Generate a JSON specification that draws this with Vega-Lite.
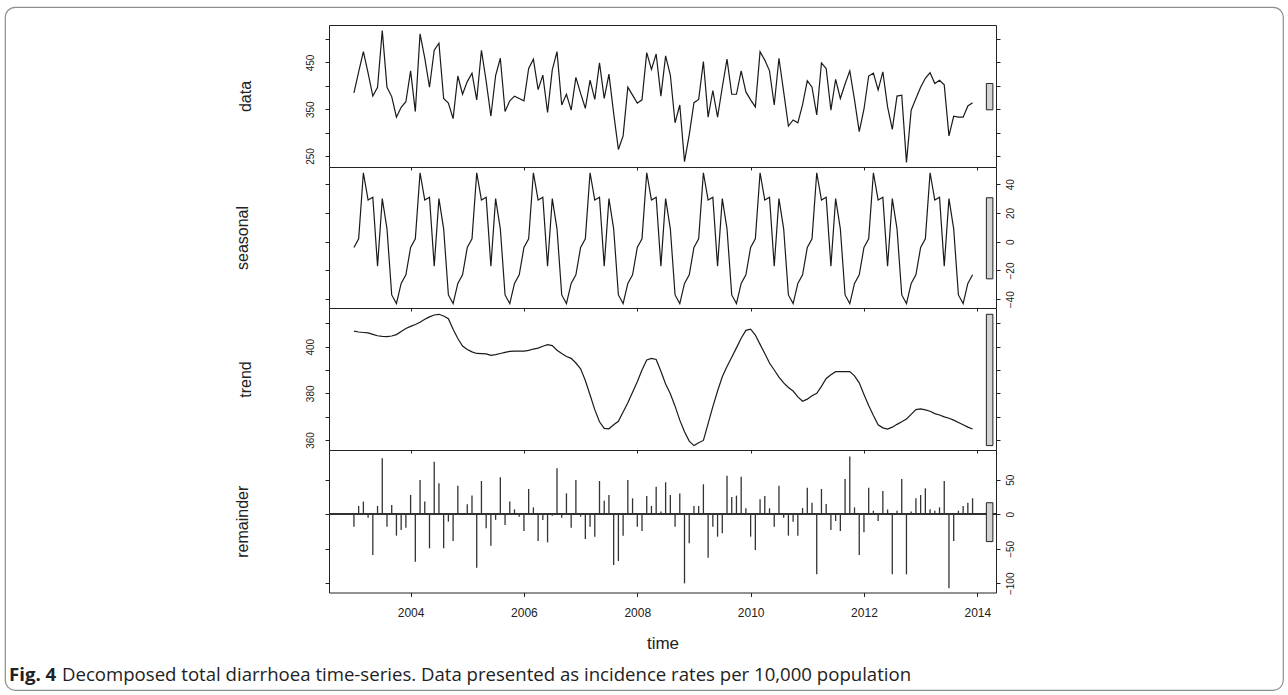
{
"$schema": "https://vega.github.io/schema/vega-lite/v6.json",
"width": 1278, "height": 683,
"autosize": {"type": "none"},
"padding": {"left": 5, "top": 7, "right": 5, "bottom": 5},
"background": "white",
"config": {
  "view": {"stroke": "#8f8f8f", "strokeWidth": 1.2, "cornerRadius": 10},
  "axis": {"grid": false, "domainColor": "#222", "tickColor": "#222", "labelColor": "#222", "titleColor": "#222", "labelFont": "Liberation Sans", "titleFont": "Liberation Sans", "titleFontWeight": "normal", "labelFlush": false, "labelOverlap": false, "domainWidth": 1, "tickWidth": 1}
},
"title": {"text": "Fig. 4", "subtitle": "Decomposed total diarrhoea time-series. Data presented as incidence rates per 10,000 population", "orient": "bottom", "anchor": "start", "frame": "group", "offset": -24, "dx": 57, "encoding": {"dx": {"value": 4}}, "baseline": "top", "font": "Open Sans", "fontSize": 18.6, "fontWeight": "bold", "color": "#222", "subtitleFont": "Open Sans", "subtitleFontSize": 18.6, "subtitleFontWeight": "normal", "subtitleColor": "#222", "subtitlePadding": -18.6},
"datasets": {"ts": [
{"time":2003,"data":385,"seasonal":-4,"trend":406.7,"remainder":-17.9},
{"time":2003.0833,"data":430,"seasonal":2,"trend":406.3,"remainder":12.1},
{"time":2003.1667,"data":473,"seasonal":48,"trend":406.1,"remainder":18.4},
{"time":2003.25,"data":427,"seasonal":29,"trend":405.9,"remainder":-4.8},
{"time":2003.3333,"data":378,"seasonal":31,"trend":405.3,"remainder":-58.9},
{"time":2003.4167,"data":397,"seasonal":-17,"trend":404.7,"remainder":12.1},
{"time":2003.5,"data":518,"seasonal":30,"trend":404.4,"remainder":81.2},
{"time":2003.5833,"data":397,"seasonal":9,"trend":404.3,"remainder":-17.9},
{"time":2003.6667,"data":377,"seasonal":-37,"trend":404.6,"remainder":13.5},
{"time":2003.75,"data":333,"seasonal":-43,"trend":405.2,"remainder":-30.9},
{"time":2003.8333,"data":354,"seasonal":-29,"trend":406.5,"remainder":-22.7},
{"time":2003.9167,"data":366,"seasonal":-23,"trend":407.8,"remainder":-19.3},
{"time":2004,"data":432,"seasonal":-4,"trend":408.7,"remainder":28.0},
{"time":2004.0833,"data":345,"seasonal":2,"trend":409.5,"remainder":-68.6},
{"time":2004.1667,"data":511,"seasonal":48,"trend":410.5,"remainder":49.8},
{"time":2004.25,"data":459,"seasonal":29,"trend":411.8,"remainder":18.4},
{"time":2004.3333,"data":397,"seasonal":31,"trend":412.8,"remainder":-49.3},
{"time":2004.4167,"data":476,"seasonal":-17,"trend":413.6,"remainder":76.3},
{"time":2004.5,"data":491,"seasonal":30,"trend":413.9,"remainder":44.9},
{"time":2004.5833,"data":373,"seasonal":9,"trend":413.2,"remainder":-49.3},
{"time":2004.6667,"data":363,"seasonal":-37,"trend":412.0,"remainder":-10.6},
{"time":2004.75,"data":330,"seasonal":-43,"trend":407.5,"remainder":-38.6},
{"time":2004.8333,"data":421,"seasonal":-29,"trend":403.5,"remainder":41.5},
{"time":2004.9167,"data":382,"seasonal":-23,"trend":400.3,"remainder":0.5},
{"time":2005,"data":409,"seasonal":-4,"trend":398.8,"remainder":14.5},
{"time":2005.0833,"data":427,"seasonal":2,"trend":397.8,"remainder":27.1},
{"time":2005.1667,"data":370,"seasonal":48,"trend":397.1,"remainder":-77.3},
{"time":2005.25,"data":476,"seasonal":29,"trend":397.0,"remainder":48.3},
{"time":2005.3333,"data":410,"seasonal":31,"trend":396.9,"remainder":-20.3},
{"time":2005.4167,"data":335,"seasonal":-17,"trend":396.3,"remainder":-45.4},
{"time":2005.5,"data":422,"seasonal":30,"trend":396.6,"remainder":-8.0},
{"time":2005.5833,"data":459,"seasonal":9,"trend":397.1,"remainder":53.6},
{"time":2005.6667,"data":345,"seasonal":-37,"trend":397.6,"remainder":-15.5},
{"time":2005.75,"data":368,"seasonal":-43,"trend":398.0,"remainder":18.4},
{"time":2005.8333,"data":378,"seasonal":-29,"trend":398.1,"remainder":7.2},
{"time":2005.9167,"data":373,"seasonal":-23,"trend":398.1,"remainder":-3.4},
{"time":2006,"data":368,"seasonal":-4,"trend":398.1,"remainder":-24.2},
{"time":2006.0833,"data":437,"seasonal":2,"trend":398.4,"remainder":36.7},
{"time":2006.1667,"data":457,"seasonal":48,"trend":399.0,"remainder":10.1},
{"time":2006.25,"data":392,"seasonal":29,"trend":399.4,"remainder":-38.6},
{"time":2006.3333,"data":423,"seasonal":31,"trend":400.2,"remainder":-8.2},
{"time":2006.4167,"data":343,"seasonal":-17,"trend":400.9,"remainder":-40.6},
{"time":2006.5,"data":434,"seasonal":30,"trend":400.5,"remainder":-1.9},
{"time":2006.5833,"data":473,"seasonal":9,"trend":398.5,"remainder":66.7},
{"time":2006.6667,"data":359,"seasonal":-37,"trend":397.1,"remainder":-4.8},
{"time":2006.75,"data":382,"seasonal":-43,"trend":395.8,"remainder":30.4},
{"time":2006.8333,"data":348,"seasonal":-29,"trend":395.0,"remainder":-19.3},
{"time":2006.9167,"data":418,"seasonal":-23,"trend":393.0,"remainder":49.8},
{"time":2007,"data":384,"seasonal":-4,"trend":390.5,"remainder":-3.4},
{"time":2007.0833,"data":352,"seasonal":2,"trend":385.5,"remainder":-35.7},
{"time":2007.1667,"data":412,"seasonal":48,"trend":379.3,"remainder":-17.9},
{"time":2007.25,"data":371,"seasonal":29,"trend":373.0,"remainder":-32.4},
{"time":2007.3333,"data":449,"seasonal":31,"trend":367.8,"remainder":48.3},
{"time":2007.4167,"data":373,"seasonal":-17,"trend":365.0,"remainder":19.8},
{"time":2007.5,"data":425,"seasonal":30,"trend":364.8,"remainder":28.0},
{"time":2007.5833,"data":341,"seasonal":9,"trend":366.5,"remainder":-73.4},
{"time":2007.6667,"data":264,"seasonal":-37,"trend":368.0,"remainder":-67.6},
{"time":2007.75,"data":293,"seasonal":-43,"trend":372.0,"remainder":-30.9},
{"time":2007.8333,"data":397,"seasonal":-29,"trend":376.0,"remainder":49.8},
{"time":2007.9167,"data":380,"seasonal":-23,"trend":380.5,"remainder":23.2},
{"time":2008,"data":363,"seasonal":-4,"trend":385.0,"remainder":-17.9},
{"time":2008.0833,"data":370,"seasonal":2,"trend":390.0,"remainder":-24.2},
{"time":2008.1667,"data":471,"seasonal":48,"trend":394.3,"remainder":26.6},
{"time":2008.25,"data":435,"seasonal":29,"trend":395.0,"remainder":12.1},
{"time":2008.3333,"data":468,"seasonal":31,"trend":394.5,"remainder":40.1},
{"time":2008.4167,"data":378,"seasonal":-17,"trend":389.5,"remainder":3.9},
{"time":2008.5,"data":464,"seasonal":30,"trend":384.0,"remainder":46.4},
{"time":2008.5833,"data":423,"seasonal":9,"trend":379.8,"remainder":28.0},
{"time":2008.6667,"data":321,"seasonal":-37,"trend":374.5,"remainder":-17.9},
{"time":2008.75,"data":359,"seasonal":-43,"trend":368.5,"remainder":30.0},
{"time":2008.8333,"data":238,"seasonal":-29,"trend":363.5,"remainder":-100.0},
{"time":2008.9167,"data":295,"seasonal":-23,"trend":359.5,"remainder":-42.0},
{"time":2009,"data":364,"seasonal":-4,"trend":357.6,"remainder":12.1},
{"time":2009.0833,"data":371,"seasonal":2,"trend":358.8,"remainder":12.1},
{"time":2009.1667,"data":452,"seasonal":48,"trend":359.8,"remainder":43.5},
{"time":2009.25,"data":333,"seasonal":29,"trend":367.0,"remainder":-62.8},
{"time":2009.3333,"data":390,"seasonal":31,"trend":374.3,"remainder":-17.9},
{"time":2009.4167,"data":333,"seasonal":-17,"trend":381.0,"remainder":-32.4},
{"time":2009.5,"data":397,"seasonal":30,"trend":387.1,"remainder":-27.5},
{"time":2009.5833,"data":457,"seasonal":9,"trend":391.5,"remainder":56.0},
{"time":2009.6667,"data":382,"seasonal":-37,"trend":395.5,"remainder":25.1},
{"time":2009.75,"data":382,"seasonal":-43,"trend":399.5,"remainder":27.1},
{"time":2009.8333,"data":432,"seasonal":-29,"trend":403.6,"remainder":54.6},
{"time":2009.9167,"data":387,"seasonal":-23,"trend":407.0,"remainder":8.7},
{"time":2010,"data":370,"seasonal":-4,"trend":407.5,"remainder":-32.4},
{"time":2010.0833,"data":355,"seasonal":2,"trend":405.0,"remainder":-51.7},
{"time":2010.1667,"data":473,"seasonal":48,"trend":401.0,"remainder":21.7},
{"time":2010.25,"data":455,"seasonal":29,"trend":397.1,"remainder":26.6},
{"time":2010.3333,"data":432,"seasonal":31,"trend":393.0,"remainder":8.7},
{"time":2010.4167,"data":359,"seasonal":-17,"trend":390.0,"remainder":-17.9},
{"time":2010.5,"data":459,"seasonal":30,"trend":387.0,"remainder":41.5},
{"time":2010.5833,"data":387,"seasonal":9,"trend":384.5,"remainder":-4.8},
{"time":2010.6667,"data":314,"seasonal":-37,"trend":382.5,"remainder":-30.9},
{"time":2010.75,"data":327,"seasonal":-43,"trend":381.0,"remainder":-10.6},
{"time":2010.8333,"data":321,"seasonal":-29,"trend":378.5,"remainder":-30.9},
{"time":2010.9167,"data":360,"seasonal":-23,"trend":376.6,"remainder":9.0},
{"time":2011,"data":411,"seasonal":-4,"trend":377.5,"remainder":38.6},
{"time":2011.0833,"data":397,"seasonal":2,"trend":379.0,"remainder":16.9},
{"time":2011.1667,"data":338,"seasonal":48,"trend":380.0,"remainder":-87.0},
{"time":2011.25,"data":449,"seasonal":29,"trend":383.0,"remainder":36.7},
{"time":2011.3333,"data":437,"seasonal":31,"trend":386.4,"remainder":15.0},
{"time":2011.4167,"data":348,"seasonal":-17,"trend":388.0,"remainder":-22.7},
{"time":2011.5,"data":414,"seasonal":30,"trend":389.3,"remainder":-9.7},
{"time":2011.5833,"data":373,"seasonal":9,"trend":389.3,"remainder":-24.2},
{"time":2011.6667,"data":404,"seasonal":-37,"trend":389.3,"remainder":51.2},
{"time":2011.75,"data":432,"seasonal":-43,"trend":389.3,"remainder":83.6},
{"time":2011.8333,"data":370,"seasonal":-29,"trend":387.5,"remainder":10.0},
{"time":2011.9167,"data":302,"seasonal":-23,"trend":384.5,"remainder":-58.9},
{"time":2012,"data":350,"seasonal":-4,"trend":379.5,"remainder":-26.0},
{"time":2012.0833,"data":421,"seasonal":2,"trend":374.8,"remainder":38.6},
{"time":2012.1667,"data":427,"seasonal":48,"trend":370.5,"remainder":5.3},
{"time":2012.25,"data":391,"seasonal":29,"trend":366.5,"remainder":-9.7},
{"time":2012.3333,"data":430,"seasonal":31,"trend":365.2,"remainder":33.8},
{"time":2012.4167,"data":355,"seasonal":-17,"trend":364.7,"remainder":7.0},
{"time":2012.5,"data":307,"seasonal":30,"trend":365.5,"remainder":-87.0},
{"time":2012.5833,"data":378,"seasonal":9,"trend":366.7,"remainder":5.3},
{"time":2012.6667,"data":380,"seasonal":-37,"trend":367.8,"remainder":51.2},
{"time":2012.75,"data":236,"seasonal":-43,"trend":369.0,"remainder":-87.0},
{"time":2012.8333,"data":348,"seasonal":-29,"trend":371.0,"remainder":3.9},
{"time":2012.9167,"data":373,"seasonal":-23,"trend":373.0,"remainder":23.2},
{"time":2013,"data":397,"seasonal":-4,"trend":373.3,"remainder":28.0},
{"time":2013.0833,"data":416,"seasonal":2,"trend":372.9,"remainder":37.7},
{"time":2013.1667,"data":428,"seasonal":48,"trend":372.3,"remainder":7.2},
{"time":2013.25,"data":405,"seasonal":29,"trend":371.3,"remainder":5.3},
{"time":2013.3333,"data":412,"seasonal":31,"trend":370.7,"remainder":10.1},
{"time":2013.4167,"data":402,"seasonal":-17,"trend":369.9,"remainder":48.3},
{"time":2013.5,"data":293,"seasonal":30,"trend":369.3,"remainder":-107.2},
{"time":2013.5833,"data":335,"seasonal":9,"trend":368.5,"remainder":-38.6},
{"time":2013.6667,"data":333,"seasonal":-37,"trend":367.5,"remainder":5.3},
{"time":2013.75,"data":333,"seasonal":-43,"trend":366.5,"remainder":12.1},
{"time":2013.8333,"data":357,"seasonal":-29,"trend":365.5,"remainder":16.9},
{"time":2013.9167,"data":364,"seasonal":-23,"trend":364.7,"remainder":23.2}
]},
"data": {"name": "ts"},
"layer": [
 {"layer": [
   {"mark": {"type": "line", "color": "#1a1a1a", "strokeWidth": 1.2},
    "encoding": {
     "x": {"field": "time", "type": "quantitative", "scale": {"domain": [2002.56, 2014.33], "range": [324, 991], "nice": false, "zero": false}, "axis": {"orient": "top", "offset": -18, "ticks": false, "labels": false, "title": null}},
     "y": {"field": "data", "type": "quantitative", "scale": {"domain": [226.5, 530], "range": [160, 18], "nice": false, "zero": false}, "axis": {"orient": "left", "offset": -324, "values": [250, 300, 350, 400, 450, 500], "labelExpr": "datum.value % 100 == 50 ? datum.label : ''", "tickSize": 4, "labelPadding": 10, "labelFontSize": 10, "labelAngle": -90, "labelAlign": "center", "labelBaseline": "bottom", "title": "data", "titleFontSize": 16, "titlePadding": 52}}
    }},
   {"data": {"values": [{"t0": 2014.16, "t1": 2014.275, "lo": 348.7, "hi": 405}]},
    "mark": {"type": "rect", "fill": "#d3d3d3", "stroke": "#222", "strokeWidth": 1},
    "encoding": {
     "x": {"field": "t0", "type": "quantitative", "scale": {"domain": [2002.56, 2014.33], "range": [324, 991], "nice": false, "zero": false}, "axis": {"orient": "bottom", "offset": -523, "values": [2004, 2006, 2008, 2010, 2012, 2014], "labels": false, "tickSize": 3, "title": null}},
     "x2": {"field": "t1"},
     "y": {"field": "lo", "type": "quantitative", "scale": {"domain": [226.5, 530], "range": [160, 18], "nice": false, "zero": false}, "axis": {"orient": "right", "offset": -287, "values": [250, 300, 350, 400, 450, 500], "labels": false, "tickSize": 4, "title": null}},
     "y2": {"field": "hi"}
    }}
  ],
  "resolve": {"scale": {"y": "shared"}, "axis": {"x": "independent", "y": "independent"}}},
 {"layer": [
   {"mark": {"type": "line", "color": "#1a1a1a", "strokeWidth": 1.2},
    "encoding": {
     "x": {"field": "time", "type": "quantitative", "scale": {"domain": [2002.56, 2014.33], "range": [324, 991], "nice": false, "zero": false}, "axis": {"orient": "bottom", "offset": -382, "values": [2004, 2006, 2008, 2010, 2012, 2014], "labels": false, "tickSize": 3, "title": null}},
     "y": {"field": "seasonal", "type": "quantitative", "scale": {"domain": [-46.1, 52.0], "range": [301, 160], "nice": false, "zero": false}, "axis": {"orient": "left", "offset": -324, "values": [-40, -20, 0, 20, 40], "labels": false, "tickSize": 4, "title": "seasonal", "titleFontSize": 16, "titlePadding": 74}}
    }},
   {"data": {"values": [{"t0": 2014.16, "t1": 2014.275, "lo": -25.8, "hi": 30.6}]},
    "mark": {"type": "rect", "fill": "#d3d3d3", "stroke": "#222", "strokeWidth": 1},
    "encoding": {
     "x": {"field": "t0", "type": "quantitative", "scale": {"domain": [2002.56, 2014.33], "range": [324, 991], "nice": false, "zero": false}, "axis": null},
     "x2": {"field": "t1"},
     "y": {"field": "lo", "type": "quantitative", "scale": {"domain": [-46.1, 52.0], "range": [301, 160], "nice": false, "zero": false}, "axis": {"orient": "right", "offset": -287, "values": [-40, -20, 0, 20, 40], "tickSize": 4, "labelPadding": 5, "labelFontSize": 10, "labelAngle": -90, "labelAlign": "center", "labelBaseline": "top", "title": null}},
     "y2": {"field": "hi"}
    }}
  ],
  "resolve": {"scale": {"y": "shared"}, "axis": {"x": "independent", "y": "independent"}}},
 {"layer": [
   {"mark": {"type": "line", "color": "#1a1a1a", "strokeWidth": 1.2},
    "encoding": {
     "x": {"field": "time", "type": "quantitative", "scale": {"domain": [2002.56, 2014.33], "range": [324, 991], "nice": false, "zero": false}, "axis": {"orient": "bottom", "offset": -240, "values": [2004, 2006, 2008, 2010, 2012, 2014], "labels": false, "tickSize": 3, "title": null}},
     "y": {"field": "trend", "type": "quantitative", "scale": {"domain": [355.7, 416.6], "range": [443, 301], "nice": false, "zero": false}, "axis": {"orient": "left", "offset": -324, "values": [360, 370, 380, 390, 400, 410], "labelExpr": "datum.value % 20 == 0 ? datum.label : ''", "tickSize": 4, "labelPadding": 10, "labelFontSize": 10, "labelAngle": -90, "labelAlign": "center", "labelBaseline": "bottom", "title": "trend", "titleFontSize": 16, "titlePadding": 52}}
    }},
   {"data": {"values": [{"t0": 2014.16, "t1": 2014.275, "lo": 357.6, "hi": 413.9}]},
    "mark": {"type": "rect", "fill": "#d3d3d3", "stroke": "#222", "strokeWidth": 1},
    "encoding": {
     "x": {"field": "t0", "type": "quantitative", "scale": {"domain": [2002.56, 2014.33], "range": [324, 991], "nice": false, "zero": false}, "axis": null},
     "x2": {"field": "t1"},
     "y": {"field": "lo", "type": "quantitative", "scale": {"domain": [355.7, 416.6], "range": [443, 301], "nice": false, "zero": false}, "axis": {"orient": "right", "offset": -287, "values": [360, 370, 380, 390, 400, 410], "labels": false, "tickSize": 4, "title": null}},
     "y2": {"field": "hi"}
    }}
  ],
  "resolve": {"scale": {"y": "shared"}, "axis": {"x": "independent", "y": "independent"}}},
 {"layer": [
   {"mark": {"type": "rule", "color": "#333", "strokeWidth": 1.3},
    "encoding": {
     "x": {"field": "time", "type": "quantitative", "scale": {"domain": [2002.56, 2014.33], "range": [324, 991], "nice": false, "zero": false}, "axis": {"orient": "bottom", "offset": -97.5, "values": [2004, 2006, 2008, 2010, 2012, 2014], "format": "d", "tickSize": 4, "labelPadding": 11, "labelFontSize": 12, "title": "time", "titleFontSize": 17, "titlePadding": 17}},
     "y": {"field": "remainder", "type": "quantitative", "scale": {"domain": [-113.3, 93.2], "range": [585.5, 443], "nice": false, "zero": false}, "axis": {"orient": "left", "offset": -324, "values": [-100, -50, 0, 50], "labels": false, "tickSize": 4, "title": "remainder", "titleFontSize": 16, "titlePadding": 74}},
     "y2": {"datum": 0}
    }},
   {"mark": {"type": "rule", "color": "#333", "strokeWidth": 1.2},
    "encoding": {
     "x": {"datum": 2002.56, "type": "quantitative", "scale": {"domain": [2002.56, 2014.33], "range": [324, 991], "nice": false, "zero": false}, "axis": null},
     "x2": {"datum": 2014.33},
     "y": {"datum": 0, "type": "quantitative", "scale": {"domain": [-113.3, 93.2], "range": [585.5, 443], "nice": false, "zero": false}, "axis": null}
    }},
   {"data": {"values": [{"t0": 2014.16, "t1": 2014.275, "lo": -39.5, "hi": 16.8}]},
    "mark": {"type": "rect", "fill": "#d3d3d3", "stroke": "#222", "strokeWidth": 1},
    "encoding": {
     "x": {"field": "t0", "type": "quantitative", "scale": {"domain": [2002.56, 2014.33], "range": [324, 991], "nice": false, "zero": false}, "axis": null},
     "x2": {"field": "t1"},
     "y": {"field": "lo", "type": "quantitative", "scale": {"domain": [-113.3, 93.2], "range": [585.5, 443], "nice": false, "zero": false}, "axis": {"orient": "right", "offset": -287, "values": [-100, -50, 0, 50], "tickSize": 4, "labelPadding": 5, "labelFontSize": 10, "labelAngle": -90, "labelAlign": "center", "labelBaseline": "top", "title": null}},
     "y2": {"field": "hi"}
    }}
  ],
  "resolve": {"scale": {"y": "shared"}, "axis": {"x": "independent", "y": "independent"}}}
],
"resolve": {"scale": {"y": "independent"}, "axis": {"x": "independent", "y": "independent"}}
}
